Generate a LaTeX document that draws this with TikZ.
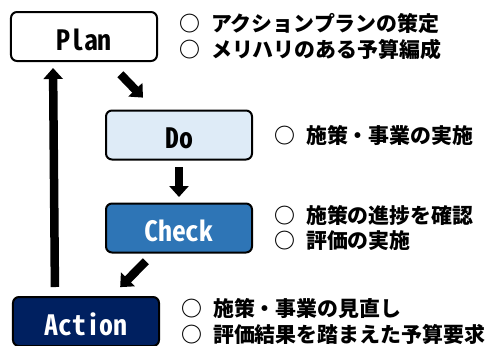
\documentclass[tikz,border=0pt]{standalone}
\usepackage{fontspec}
\IfFontExistsTF{Noto Sans Mono CJK JP}
  {\newfontfamily\boxfont{Noto Sans Mono CJK JP}}
  {\newfontfamily\boxfont[FakeStretch=0.8]{DejaVu Sans Mono}}
\newfontfamily\jpfont{Noto Sans CJK JP}
\usepackage{tikz}
\usetikzlibrary{positioning,arrows.meta}
\definecolor{dofill}{HTML}{DEEBF7}
\definecolor{checkfill}{HTML}{2E75B6}
\definecolor{actionfill}{HTML}{002060}
\newcommand{\maru}{○\hspace{.5em}}
\tikzset{every picture/.style={x=1bp,y=-1bp}}
\tikzset{stage box/.style={draw=black,line width=2bp,rounded corners=6bp,
    minimum width=146bp,minimum height=49bp,inner sep=0pt,
    text height=27.5bp,text depth=0pt,
    font=\boxfont\bfseries\fontsize{28}{28}\selectfont}}
\tikzset{note/.style={right=21.5bp,inner sep=0pt,align=left,
    font=\jpfont\bfseries\fontsize{21}{25.5}\selectfont}}
\tikzset{flow/.style={line width=8.5bp,-{Triangle[width=19bp,length=11bp]}}}

\begin{document}
\begin{tikzpicture}
      \useasboundingbox (0,0) rectangle (494,345);
      \node[stage box,fill=white] (plan) at (84,36.5) {Plan};
      \node[stage box,fill=dofill] (do) at (179,135) {Do};
      \node[stage box,fill=checkfill,text=white] (check) at (179,228) {Check};
      \node[stage box,fill=actionfill,text=white] (action) at (86,321.5) {Action};
      \node[note] (plannote) at (plan.east) {\maru アクションプランの策定\\\maru メリハリのある予算編成};
      \node[note] (donote) at (do.east) {\maru 施策・事業の実施};
      \node[note] (checknote) at (check.east) {\maru 施策の進捗を確認\\\maru 評価の実施};
      \node[note] (actionnote) at (action.east) {\maru 施策・事業の見直し\\\maru 評価結果を踏まえた予算要求};
      \draw[flow,shorten <=17bp,shorten >=16.5bp] (plan) -- (do);
      \draw[flow,shorten <=6.5bp,shorten >=5.5bp] (do) -- (check);
      \draw[flow,shorten <=11bp,shorten >=12.5bp] (check) -- (action);
      \draw[flow,shorten <=9bp,shorten >=6bp] ([xshift=43bp]action.north west) -- ([xshift=43bp]plan.south west);
    \end{tikzpicture}
\end{document}
